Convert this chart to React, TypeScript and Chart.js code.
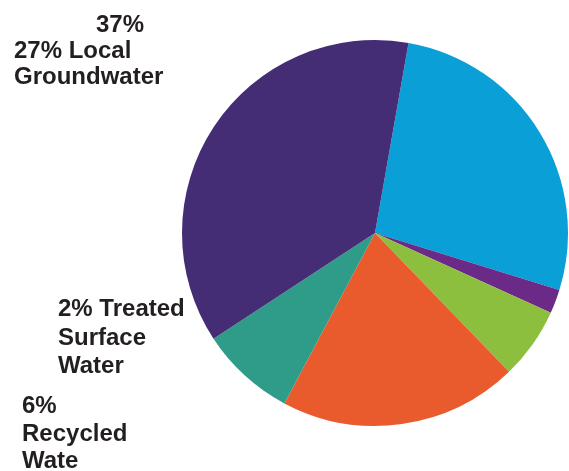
import React, { useEffect, useRef } from "react";
import { Chart, registerables } from "chart.js";

Chart.register(...registerables);

const categories = [
  "Local Groundwater",
  "Treated Surface Water",
  "Recycled Water",
  "Source D",
  "Source E",
  "Source F",
];
const shares = [27, 2, 6, 20, 8, 37];
const sliceColors = ["#0b9fd8", "#6b2a88", "#8dbf3e", "#e95b2c", "#2f9c8a", "#452d75"];

const labelBlocks = [
  { lines: ["37%"], x: 96, y: 32, lh: 26 },
  { lines: ["27% Local", "Groundwater"], x: 14, y: 58, lh: 26 },
  { lines: ["2% Treated", "Surface", "Water"], x: 58, y: 316, lh: 28.5 },
  { lines: ["6%", "Recycled", "Wate"], x: 22, y: 413, lh: 27.5 },
];

const labelPlugin = {
  id: "textLabels",
  afterDraw(chart: any) {
    const ctx = chart.ctx as CanvasRenderingContext2D;
    ctx.save();
    ctx.fillStyle = "#231f20";
    ctx.font = "bold 24px 'Liberation Sans'";
    ctx.textBaseline = "alphabetic";
    ctx.textAlign = "left";
    for (const b of labelBlocks) {
      b.lines.forEach((t, i) => ctx.fillText(t, b.x, b.y + i * b.lh));
    }
    ctx.restore();
  },
};

export default function App() {
  const ref = useRef<HTMLCanvasElement | null>(null);
  useEffect(() => {
    if (!ref.current) return;
    const chart = new Chart(ref.current, {
      type: "pie",
      data: {
        labels: categories,
        datasets: [
          {
            data: shares,
            backgroundColor: sliceColors,
            borderWidth: 0,
          },
        ],
      },
      options: {
        animation: false,
        responsive: false,
        rotation: 10,
        layout: { padding: { top: 40, bottom: 45, left: 182, right: 1 } },
        plugins: {
          legend: { display: false },
          tooltip: { enabled: false },
        },
      },
      plugins: [labelPlugin],
    });
    return () => chart.destroy();
  }, []);
  return (
    <div style={{ position: "absolute", left: 0, top: 0, width: 569, height: 471, background: "#fff", fontFamily: "'Liberation Sans'" }}>
      <span style={{ position: "absolute", left: -100, fontWeight: "bold" }}>.</span>
      <canvas ref={ref} width={569} height={471} style={{ width: 569, height: 471 }} />
    </div>
  );
}
